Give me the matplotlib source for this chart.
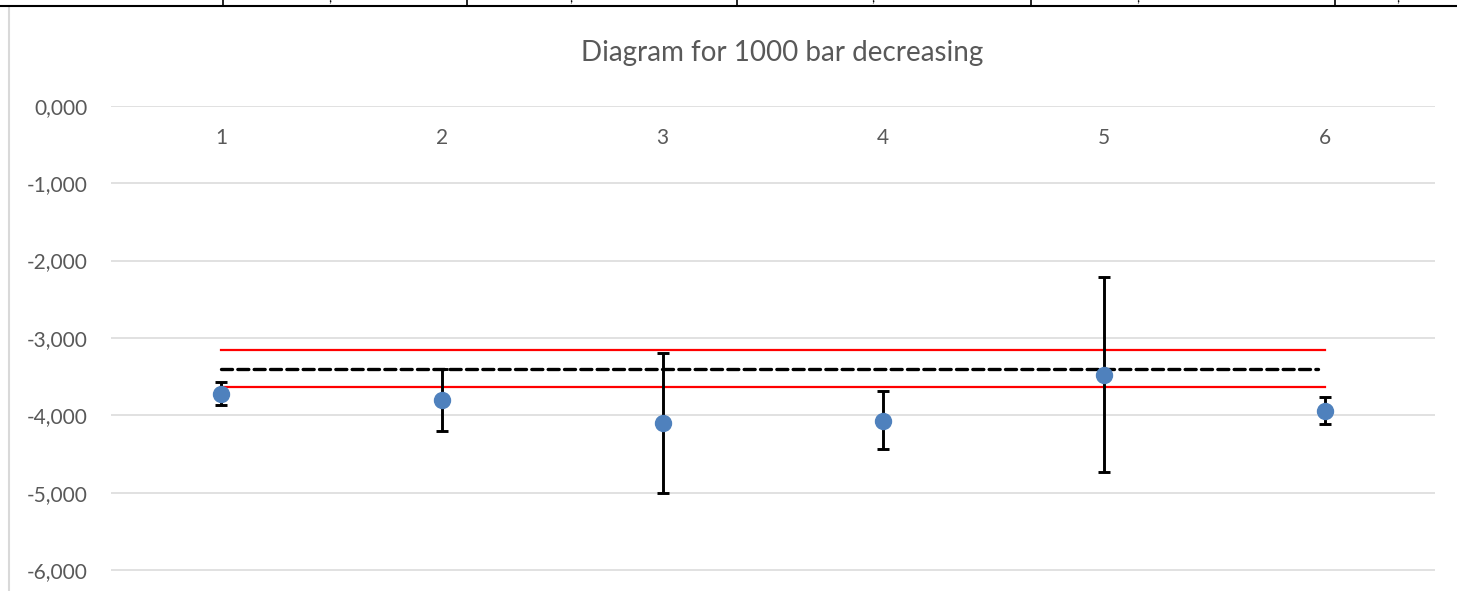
import matplotlib.pyplot as plt
from matplotlib.lines import Line2D
import numpy as np

# measurements (1000 bar decreasing)
runs = [1, 2, 3, 4, 5, 6]
values = [-3.72, -3.80, -4.10, -4.07, -3.48, -3.95]
err_top = [-3.57, -3.40, -3.20, -3.69, -2.21, -3.77]
err_bot = [-3.87, -4.20, -5.00, -4.44, -4.73, -4.11]

mean_val = -3.40
upper_lim = -3.157
lower_lim = -3.64

yticks = [0, -1, -2, -3, -4, -5, -6]
ylabels = ['0,000', '-1,000', '-2,000', '-3,000', '-4,000', '-5,000', '-6,000']

plt.rcParams['font.family'] = ['Lato', 'DejaVu Sans']

W, H = 1457, 591
fig = plt.figure(figsize=(W / 100, H / 100), dpi=100)
ax = fig.add_axes([111 / W, 0, (1435 - 111) / W, 1 - 105.7 / H])

vals = np.array(values)
yerr = [vals - np.array(err_bot), np.array(err_top) - vals]

ax.errorbar(runs, values, yerr=yerr, fmt='none', ecolor='black',
            elinewidth=2.1, capsize=4.3, capthick=2.1, zorder=3)
ax.plot(runs, values, 'o', color='#4F81BD', markersize=11.5, zorder=4)

ax.plot([runs[0], runs[-1]], [upper_lim, upper_lim], color='#FF0000', lw=1.6, zorder=2)
ax.plot([runs[0], runs[-1]], [lower_lim, lower_lim], color='#FF0000', lw=1.6, zorder=2)
ax.plot([runs[0], runs[-1] - 0.03], [mean_val, mean_val], color='black', lw=2.4,
        dashes=(3.3, 1.6), dash_capstyle='round', zorder=2)

ax.set_xlim(0.5, 6.5)
ax.set_ylim(-6.27, 0)
ax.set_yticks(yticks)
ax.set_yticklabels(ylabels)
ax.yaxis.grid(True, color='#D9D9D9', lw=1.1)
ax.set_axisbelow(True)
for s in ax.spines.values():
    s.set_visible(False)
ax.spines['bottom'].set_position(('data', 0))
ax.set_xticks(runs)
ax.set_xticklabels([str(r) for r in runs])
ax.tick_params(axis='both', length=0, labelsize=15, labelcolor='#595959')
ax.tick_params(axis='x', pad=16)
ax.tick_params(axis='y', pad=16.5)

fig.text(782 / W, 1 - 53 / H, 'Diagram for 1000 bar decreasing', ha='center',
         va='center', fontsize=20, color='#595959')

# chart frame and the spreadsheet row above it
fig.add_artist(Line2D([9 / W, 9 / W], [0, 1 - 8 / H], color='#D9D9D9', lw=1.5))
fig.add_artist(Line2D([0, 1], [1 - 6 / H, 1 - 6 / H], color='black', lw=1.5))
for x in [223, 467, 737, 1031, 1335]:
    fig.add_artist(Line2D([x / W, x / W], [1 - 6 / H, 1], color='black', lw=1.2))
for x in [330, 571, 873, 1138, 1398]:
    fig.text(x / W, 1 - 4 / H, ',', ha='center', va='bottom', fontsize=10, color='black')

fig.savefig('out.png', dpi=100)
